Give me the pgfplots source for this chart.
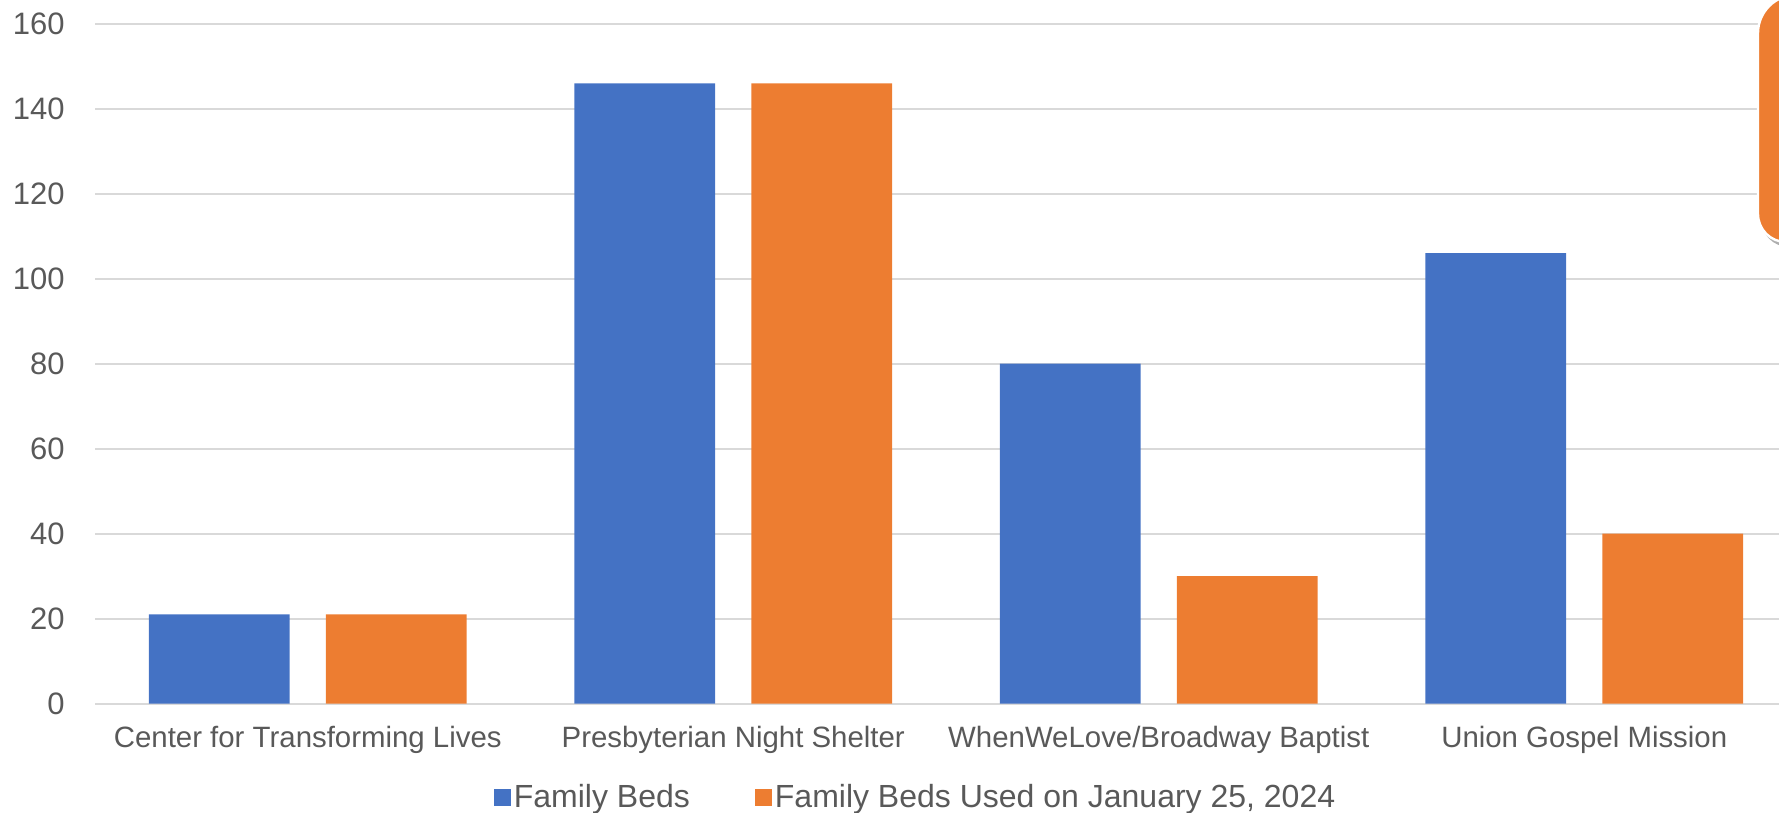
\documentclass[border=0pt]{standalone}
\usepackage{pgfplots}
\pgfplotsset{compat=1.18}
\usepackage{fontspec}
\setmainfont{Liberation Sans}
\usetikzlibrary{shadows}
\definecolor{cblue}{HTML}{4472C4}
\definecolor{corange}{HTML}{ED7D31}
\definecolor{ctext}{HTML}{595959}
\definecolor{cgrid}{HTML}{D9D9D9}
\begin{document}
\begin{tikzpicture}
\begin{axis}[
  at={(47.5pt,-351.75pt)}, anchor=south west,
  scale only axis, width=851pt, height=339.85pt,
  xmin=-0.5, xmax=3.5, ymin=0, ymax=160,
  ytick={0,20,...,160},
  xtick={0,1,2,3},
  xticklabels={Center for Transforming Lives, Presbyterian Night Shelter, WhenWeLove/Broadway Baptist, Union Gospel Mission},
  ymajorgrids, grid style={cgrid, line width=1pt},
  axis line style={draw=none},
  major tick length=0pt,
  tick label style={text=ctext},
  xticklabel style={font=\fontsize{14.7}{17}\selectfont},
  yticklabel style={font=\fontsize{15.5}{18}\selectfont},
  /pgf/number format/assume math mode=true,
  yticklabel style={anchor=east, inner sep=0pt, xshift=-15pt},
  xticklabel style={anchor=north, inner sep=0pt, yshift=-11pt},
  ybar=18.15pt, bar width=70.35pt,
  legend columns=2,
  legend style={at={(0.4824,-0.1384)}, anchor=center, draw=none, fill=none, font=\fontsize{16}{19}\selectfont, text=ctext, /tikz/every even column/.append style={column sep=31pt}, inner sep=0pt, nodes={inner sep=1.5pt}},
  legend image code/.code={\fill[#1] (0pt,-4.25pt) rectangle (8.5pt,4.25pt);},
]
\addplot[fill=cblue, draw=none] coordinates {(0,21) (1,146) (2,80) (3,106)};
\addplot[fill=corange, draw=none] coordinates {(0,21) (1,146) (2,30) (3,40)};
\legend{Family Beds, {Family Beds Used on January 25, 2024}}
\end{axis}
\path[fill=corange, draw=white, line width=1.2pt, drop shadow={shadow xshift=1.5pt, shadow yshift=-2.5pt, opacity=0.45, fill=black!70}]
  (915pt,-121pt) -- (893pt,-121pt) arc[start angle=270, end angle=180, radius=14pt]
  -- (879pt,-16.5pt) arc[start angle=180, end angle=90, radius=19pt] -- (915pt,2.5pt) -- cycle;
\pgfresetboundingbox
\useasboundingbox (0,0) rectangle (889.5pt,-406.5pt);
\end{tikzpicture}
\end{document}
